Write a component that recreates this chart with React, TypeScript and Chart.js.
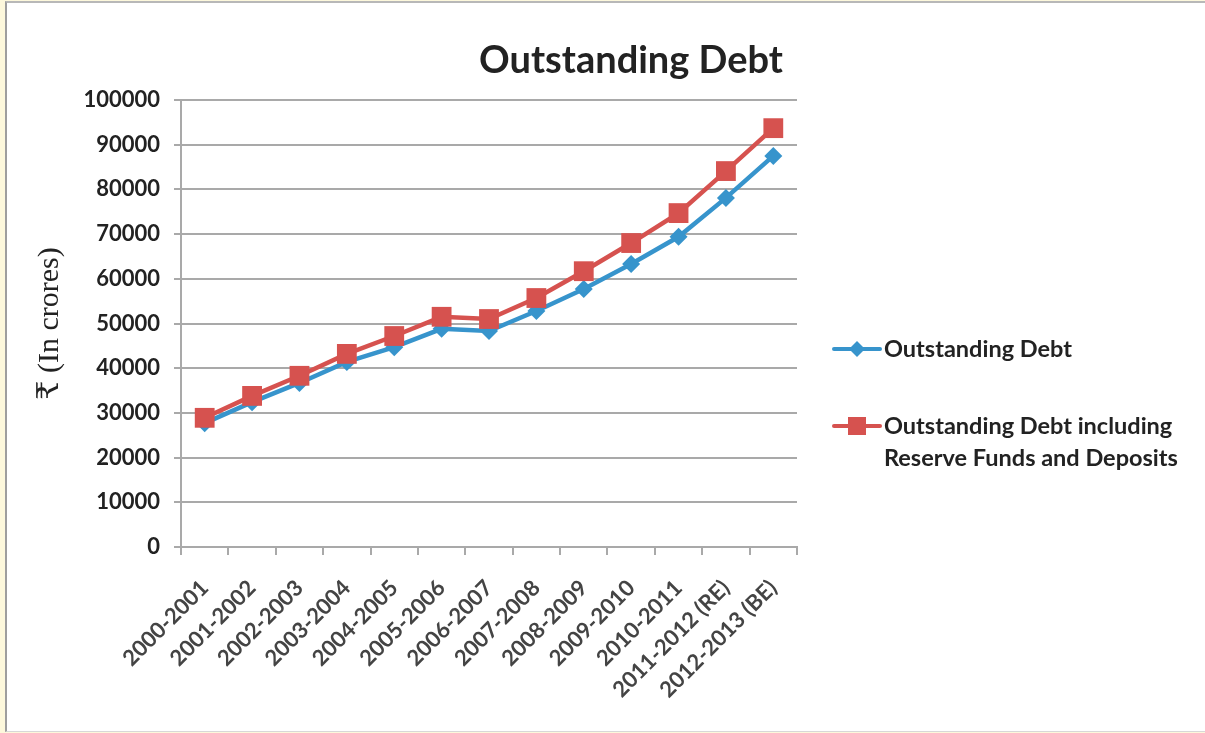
import React, { useEffect, useRef } from "react";
import { Chart, registerables } from "chart.js";

Chart.register(...registerables);

const categories = [
  "2000-2001", "2001-2002", "2002-2003", "2003-2004", "2004-2005", "2005-2006",
  "2006-2007", "2007-2008", "2008-2009", "2009-2010", "2010-2011",
  "2011-2012 (RE)", "2012-2013 (BE)",
];
const outstandingDebt = [27700, 32400, 36700, 41400, 44700, 48800, 48300, 52800, 57700, 63300, 69400, 78100, 87500];
const outstandingDebtIncl = [28900, 33800, 38300, 43200, 47200, 51500, 51000, 55700, 61700, 68000, 74700, 84100, 93700];
const yTicks = [0, 10000, 20000, 30000, 40000, 50000, 60000, 70000, 80000, 90000, 100000];

const titleText = "Outstanding Debt";
const yTitle = "₹ (In crores)";
const legendLabels = [["Outstanding Debt"], ["Outstanding Debt including", "Reserve Funds and Deposits"]];

const BLUE = "#3794cc";
const RED = "#d6524f";
const GRID = "#a9a9a9";
const TEXT = "#222222";
const FONT = "Lato, 'Open Sans', sans-serif";

const overlay = {
  id: "overlay",
  afterDraw(chart: any) {
    const ctx = chart.ctx;
    ctx.save();
    // Title
    ctx.fillStyle = TEXT;
    ctx.font = `bold 38px ${FONT}`;
    ctx.textAlign = "center";
    ctx.textBaseline = "middle";
    ctx.fillText(titleText, 631, 61);

    // Legend
    const items = [
      { color: BLUE, style: "diamond", y: 349 },
      { color: RED, style: "square", y: 426 },
    ];
    items.forEach((it, i) => {
      ctx.strokeStyle = it.color;
      ctx.lineWidth = 4;
      ctx.lineCap = "round";
      ctx.beginPath();
      ctx.moveTo(834, it.y);
      ctx.lineTo(880, it.y);
      ctx.stroke();
      ctx.fillStyle = it.color;
      ctx.beginPath();
      if (it.style === "diamond") {
        const r = 8;
        ctx.moveTo(857, it.y - r);
        ctx.lineTo(857 + r, it.y);
        ctx.lineTo(857, it.y + r);
        ctx.lineTo(857 - r, it.y);
        ctx.closePath();
      } else {
        ctx.rect(857 - 9, it.y - 9, 18, 18);
      }
      ctx.fill();
      ctx.fillStyle = TEXT;
      ctx.font = `bold 23.5px ${FONT}`;
      ctx.textAlign = "left";
      ctx.textBaseline = "middle";
      legendLabels[i].forEach((line, j) => {
        ctx.fillText(line, 884, it.y + j * 32);
      });
    });
    ctx.restore();
  },
};

export default function App() {
  const ref = useRef<HTMLCanvasElement | null>(null);
  useEffect(() => {
    if (!ref.current) return;
    const chart = new Chart(ref.current, {
      type: "line",
      data: {
        labels: categories,
        datasets: [
          {
            label: "Outstanding Debt",
            data: outstandingDebt,
            borderColor: BLUE,
            backgroundColor: BLUE,
            borderWidth: 4.5,
            pointStyle: "rectRot",
            pointRadius: 9,
            pointBorderWidth: 0,
            tension: 0,
            order: 1,
          },
          {
            label: "Outstanding Debt including Reserve Funds and Deposits",
            data: outstandingDebtIncl,
            borderColor: RED,
            backgroundColor: RED,
            borderWidth: 4.5,
            pointStyle: "rect",
            pointRadius: 14,
            pointBorderWidth: 0,
            tension: 0,
            order: 0,
          },
        ],
      },
      options: {
        animation: false,
        responsive: false,
        maintainAspectRatio: false,
        layout: { padding: { left: 28, right: 408, top: 100, bottom: 0 } },
        plugins: {
          legend: { display: false },
          title: { display: false },
          tooltip: { enabled: false },
        },
        scales: {
          x: {
            offset: true,
            grid: {
              offset: true,
              drawOnChartArea: false,
              drawTicks: true,
              tickLength: 8,
              color: GRID,
              lineWidth: 2,
            },
            border: { color: GRID, width: 2 },
            ticks: {
              minRotation: 45,
              maxRotation: 45,
              autoSkip: false,
              padding: 20,
              color: "#444444",
              font: { family: FONT, size: 22, weight: "bold" },
            },
            afterFit: (s: any) => { s.height = 186; },
          },
          y: {
            min: 0,
            max: 100000,
            afterBuildTicks: (s: any) => { s.ticks = yTicks.map((v) => ({ value: v })); },
            grid: { color: GRID, lineWidth: 2, tickLength: 7, drawTicks: true },
            border: { color: GRID, width: 2 },
            ticks: {
              padding: 14,
              color: TEXT,
              font: { family: FONT, size: 22, weight: "bold" },
              callback: (v: any) => String(v),
            },
            title: {
              display: true,
              text: yTitle,
              color: TEXT,
              padding: { top: 4, bottom: 0 },
              font: { family: "'Liberation Serif', 'DejaVu Serif', serif", size: 30, weight: "normal" },
            },
            afterFit: (s: any) => { s.width = 181 - 28; },
          },
        },
      },
      plugins: [overlay],
    });
    return () => chart.destroy();
  }, []);

  return (
    <div style={{ position: "fixed", left: 0, top: 0, width: 1205, height: 733, background: "#fdf8dc" }}>
      <div
        style={{
          position: "absolute",
          left: 5,
          top: 1,
          right: 0,
          bottom: 1,
          background: "#ffffff",
          borderLeft: "2px solid #9e9e9e",
          borderTop: "2px solid #b8b8b8",
          borderBottom: "1px solid #d8d8d8",
        }}
      />
      <canvas ref={ref} width={1205} height={733} style={{ position: "absolute", left: 0, top: 0, width: 1205, height: 733 }} />
    </div>
  );
}
